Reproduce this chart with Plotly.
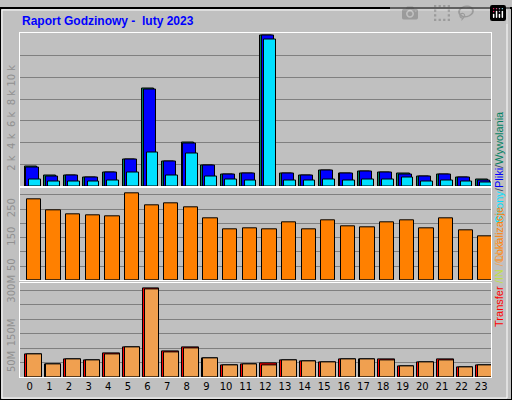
import plotly.graph_objects as go

hours = list(range(24))
hits = [1.86, 0.95, 0.95, 0.77, 1.23, 2.5, 8.95, 2.32, 4.05, 1.95, 1.05, 1.14,
        13.86, 1.14, 0.95, 1.41, 1.14, 1.32, 1.23, 1.14, 0.86, 1.05, 0.77, 0.59]
files = [1.75, 0.9, 0.95, 0.77, 1.23, 2.5, 8.86, 2.32, 3.95, 1.95, 1.05, 1.14,
         13.8, 1.14, 0.95, 1.41, 1.14, 1.32, 1.23, 1.05, 0.86, 1.05, 0.77, 0.5]
pages = [0.59, 0.41, 0.41, 0.41, 0.5, 1.23, 3.14, 0.95, 3.05, 0.86, 0.59, 0.5,
         13.5, 0.5, 0.5, 0.59, 0.5, 0.59, 0.59, 0.77, 0.41, 0.5, 0.41, 0.32]
sites = [284, 247, 233, 229, 226, 305, 264, 271, 257, 219, 181, 184,
         181, 205, 181, 212, 191, 188, 205, 212, 184, 219, 174, 153]
transfer = [79.5, 46.6, 62.5, 59, 83, 103, 308, 90, 103, 66, 42, 46.6,
            49, 59, 55.7, 52, 62.5, 62.5, 62.5, 38.6, 52, 62.5, 35, 42]
traffic_out = [79.5, 46.6, 62.5, 59, 79.5, 103, 304.5, 86, 100, 66, 42, 46.6,
               42, 59, 55.7, 52, 62.5, 62.5, 59, 38.6, 52, 59, 35, 42]

W, H = 512, 400
fig = go.Figure()

def bar(y, color, ax, offset, width):
    fig.add_trace(go.Bar(x=hours, y=y, xaxis="x" + ax, yaxis="y" + ax,
                         offset=offset, width=width, marker_color=color,
                         marker_line=dict(color="black", width=1), showlegend=False))

bar([v * 1000 for v in hits], "#008060", "", -0.27, 0.62)
bar([v * 1000 for v in files], "#0000ff", "", -0.17, 0.62)
bar([v * 1000 for v in pages], "#00e0ff", "", -0.05, 0.6)
bar(sites, "#ff8000", "2", -0.15, 0.72)
bar(transfer, "#ff0000", "3", -0.25, 0.85)
bar(traffic_out, "#f0a050", "3", -0.15, 0.75)

xd = [20 / W, 491 / W]
def yd(top, bot):
    return [1 - bot / H, 1 - top / H]

axcommon = dict(range=[-0.5, 23.5], domain=xd, showgrid=False, zeroline=False,
                showline=True, linecolor="white", mirror=True, fixedrange=True)
ycommon = dict(gridcolor="#808080", zeroline=False, showline=True, linecolor="white",
               mirror=True, tickangle=-90, tickfont=dict(size=10, color="#909090",
               family="DejaVu Sans"), ticks="", fixedrange=True)

fig.update_layout(
    width=W, height=H, margin=dict(l=0, r=0, t=0, b=0),
    paper_bgcolor="#c0c0c0", plot_bgcolor="#c0c0c0", barmode="overlay", bargap=0,
    xaxis=dict(**axcommon, anchor="y", showticklabels=False),
    xaxis2=dict(**axcommon, anchor="y2", showticklabels=False),
    xaxis3=dict(**axcommon, anchor="y3", tickvals=hours,
                tickfont=dict(size=10, color="black", family="DejaVu Sans")),
    yaxis=dict(**ycommon, domain=yd(25, 182), range=[0, 14100],
               tickvals=[2000, 4000, 6000, 8000, 10000, 12000],
               ticktext=["2 k", "4 k", "6 k", "8 k", "10 k", ""]),
    yaxis2=dict(**ycommon, domain=yd(184, 278), range=[0, 323],
                tickvals=[50, 100, 150, 200, 250, 300],
                ticktext=["50", "", "150", "", "250", ""]),
    yaxis3=dict(**ycommon, domain=yd(281, 377), range=[0, 324],
                tickvals=[50, 100, 150, 200, 250, 300],
                ticktext=["50M", "", "150M", "", "", "300M"]),
)

fig.add_annotation(x=20 / W, y=1 - 13 / H, xref="paper", yref="paper", xanchor="left",
                   yanchor="middle", showarrow=False,
                   text="<b>Raport Godzinowy -  luty 2023</b>",
                   font=dict(size=12, color="#0000ff", family="Liberation Sans"))
side = dict(xref="paper", yref="paper", showarrow=False, textangle=-90,
            font=dict(size=11, family="Liberation Sans"), x=499 / W, xanchor="center")
fig.add_annotation(**side, y=1 - 103 / H,
                   text="<span style='color:#00e0ff'>Strony</span>/"
                        "<span style='color:#0000ff'>Pliki</span>/"
                        "<span style='color:#008060'>Wywolania</span>")
fig.add_annotation(**side, y=1 - 231 / H,
                   text="<span style='color:#ff8000'>Lokalizacje</span>")
fig.add_annotation(**side, y=1 - 328 / H,
                   text="<span style='color:#ff0000'>Transfer</span> "
                        "<span style='color:#c0e040'>/IN</span> "
                        "<span style='color:#f0a050'>/OUT</span>")

# outer frame
fig.add_shape(type="rect", xref="paper", yref="paper", x0=0, y0=0, x1=1, y1=1,
              line=dict(color="black", width=2))
fig.add_shape(type="rect", xref="paper", yref="paper", x0=2 / W, y0=2 / H,
              x1=1 - 5 / W, y1=1 - 2 / H, line=dict(color="white", width=1))

fig.write_html("out.html", post_script="document.body.style.margin='0';"
               "document.body.style.overflow='hidden';")
